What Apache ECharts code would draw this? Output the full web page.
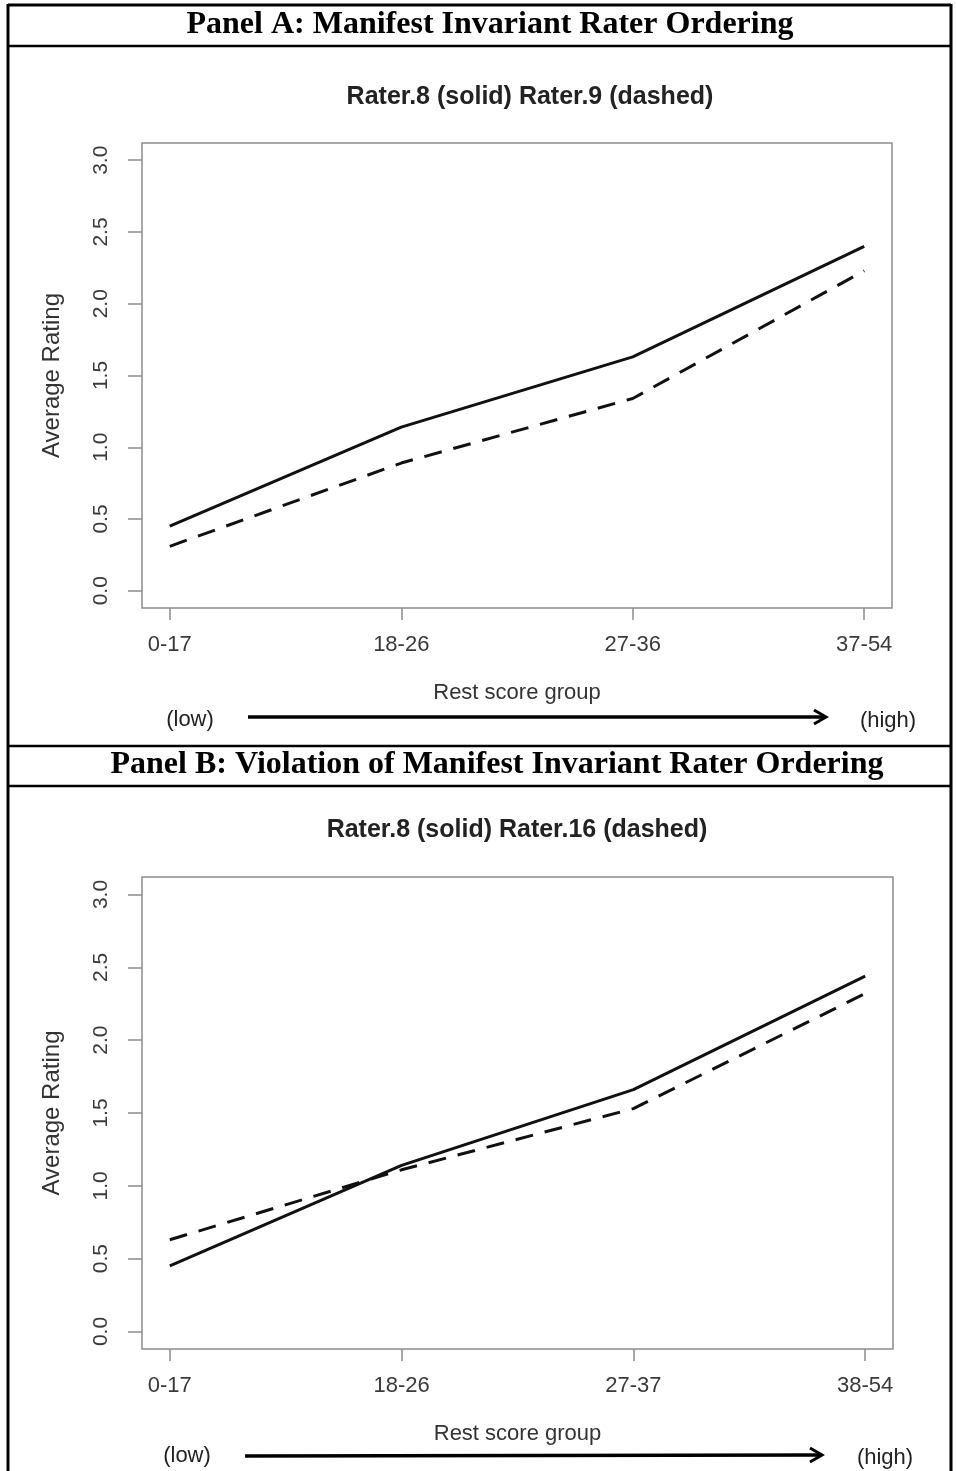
<!DOCTYPE html>
<html><head><meta charset="utf-8">
<script src="https://cdn.jsdelivr.net/npm/echarts@6/dist/echarts.min.js"></script>
<style>html,body{margin:0;padding:0;background:#fff}#c{width:956px;height:1471px}</style>
</head><body><div id="c"></div>
<script>
// ---- data ----
const categoriesA = ['0-17', '18-26', '27-36', '37-54'];
const categoriesB = ['0-17', '18-26', '27-37', '38-54'];
const rater8A  = [0.45, 1.14, 1.63, 2.40];
const rater9A  = [0.31, 0.89, 1.34, 2.23];
const rater8B  = [0.45, 1.14, 1.66, 2.44];
const rater16B = [0.63, 1.11, 1.53, 2.32];
const yTicks = [0, 0.5, 1.0, 1.5, 2.0, 2.5, 3.0];
const titleA = 'Rater.8 (solid) Rater.9 (dashed)';
const titleB = 'Rater.8 (solid) Rater.16 (dashed)';
const headerA = 'Panel A: Manifest Invariant Rater Ordering';
const headerB = 'Panel B: Violation of Manifest Invariant Rater Ordering';

const FONT = '"Liberation Sans", Helvetica, Arial, sans-serif';
const SERIF = '"Liberation Serif", "Times New Roman", Times, serif';
const GRAY = '#8c8c8c';

function pairs(vals) { return vals.map((v, i) => [i, v]); }

function xAxisFor(gridIndex, cats) {
  const idx = cats.map((c, i) => i);
  return {
    type: 'value', gridIndex, min: -0.12, max: 3.12,
    axisLine: { show: false, onZero: false }, splitLine: { show: false },
    axisTick: { show: true, inside: false, length: 12, customValues: idx, lineStyle: { color: GRAY, width: 1.5 } },
    axisLabel: { customValues: idx, formatter: v => cats[Math.round(v)], margin: 26,
      color: '#3a3a3a', fontSize: 22, fontFamily: FONT },
    name: 'Rest score group', nameLocation: 'middle', nameGap: 74,
    nameTextStyle: { color: '#333', fontSize: 22, fontFamily: FONT }
  };
}
function yAxisFor(gridIndex) {
  return {
    type: 'value', gridIndex, min: -0.12, max: 3.12,
    axisLine: { show: false, onZero: false }, splitLine: { show: false },
    axisTick: { show: true, inside: false, length: 14, customValues: yTicks, lineStyle: { color: GRAY, width: 1.5 } },
    axisLabel: { customValues: yTicks, formatter: v => v.toFixed(1), rotate: 90, margin: 30,
      color: '#3a3a3a', fontSize: 21, fontFamily: FONT },
    name: 'Average Rating', nameLocation: 'middle', nameGap: 78,
    nameTextStyle: { color: '#333', fontSize: 24, fontFamily: FONT }
  };
}
function lineSeries(axis, vals, dashed) {
  return {
    type: 'line', xAxisIndex: axis, yAxisIndex: axis, data: pairs(vals),
    symbol: 'none', silent: true,
    lineStyle: { color: '#111', width: 3, type: dashed ? [18, 12] : 'solid' }
  };
}
function hline(x1, y1, x2, y2, w) {
  return { type: 'line', shape: { x1, y1, x2, y2 }, style: { stroke: '#000', lineWidth: w } };
}
function arrow(x1, y1, x2, y2) {
  return [
    { type: 'line', shape: { x1, y1, x2: x2 - 2, y2 }, style: { stroke: '#000', lineWidth: 3.5 } },
    { type: 'polyline', shape: { points: [[x2 - 12, y2 - 7], [x2, y2], [x2 - 12, y2 + 7]] },
      style: { stroke: '#000', lineWidth: 3, fill: null } }
  ];
}
function txt(text, x, y, font, color) {
  return { type: 'text', x, y, style: { text, font, fill: color || '#000', align: 'center', verticalAlign: 'middle' } };
}

const chart = echarts.init(document.getElementById('c'), null, { renderer: 'canvas' });
chart.setOption({
  animation: false,
  backgroundColor: '#fff',
  grid: [
    { left: 142, top: 143, width: 750, height: 465, show: true, borderColor: GRAY, borderWidth: 1.5, backgroundColor: 'transparent' },
    { left: 142, top: 877, width: 751, height: 472, show: true, borderColor: GRAY, borderWidth: 1.5, backgroundColor: 'transparent' }
  ],
  xAxis: [xAxisFor(0, categoriesA), xAxisFor(1, categoriesB)],
  yAxis: [yAxisFor(0), yAxisFor(1)],
  series: [
    lineSeries(0, rater8A, false), lineSeries(0, rater9A, true),
    lineSeries(1, rater8B, false), lineSeries(1, rater16B, true)
  ],
  graphic: [
    hline(8, 5, 951, 5, 3),
    hline(8, 4, 8, 1471, 3),
    hline(951, 4, 951, 1471, 3),
    hline(8, 46, 951, 46, 2.5),
    hline(8, 746, 951, 746, 2.5),
    hline(8, 786, 951, 786, 2.5),
    txt(headerA, 490, 25, 'bold 32px ' + SERIF),
    txt(headerB, 497, 765, 'bold 32px ' + SERIF),
    txt(titleA, 530, 97, 'bold 25px ' + FONT, '#222'),
    txt(titleB, 517, 830, 'bold 25px ' + FONT, '#222'),
    txt('(low)', 190, 720, '22px ' + FONT, '#222'),
    txt('(high)', 888, 721, '22px ' + FONT, '#222'),
    txt('(low)', 187, 1456, '22px ' + FONT, '#222'),
    txt('(high)', 885, 1458, '22px ' + FONT, '#222'),
    ...arrow(248, 717, 826, 717),
    ...arrow(245, 1456, 822, 1455)
  ]
});
</script></body></html>
